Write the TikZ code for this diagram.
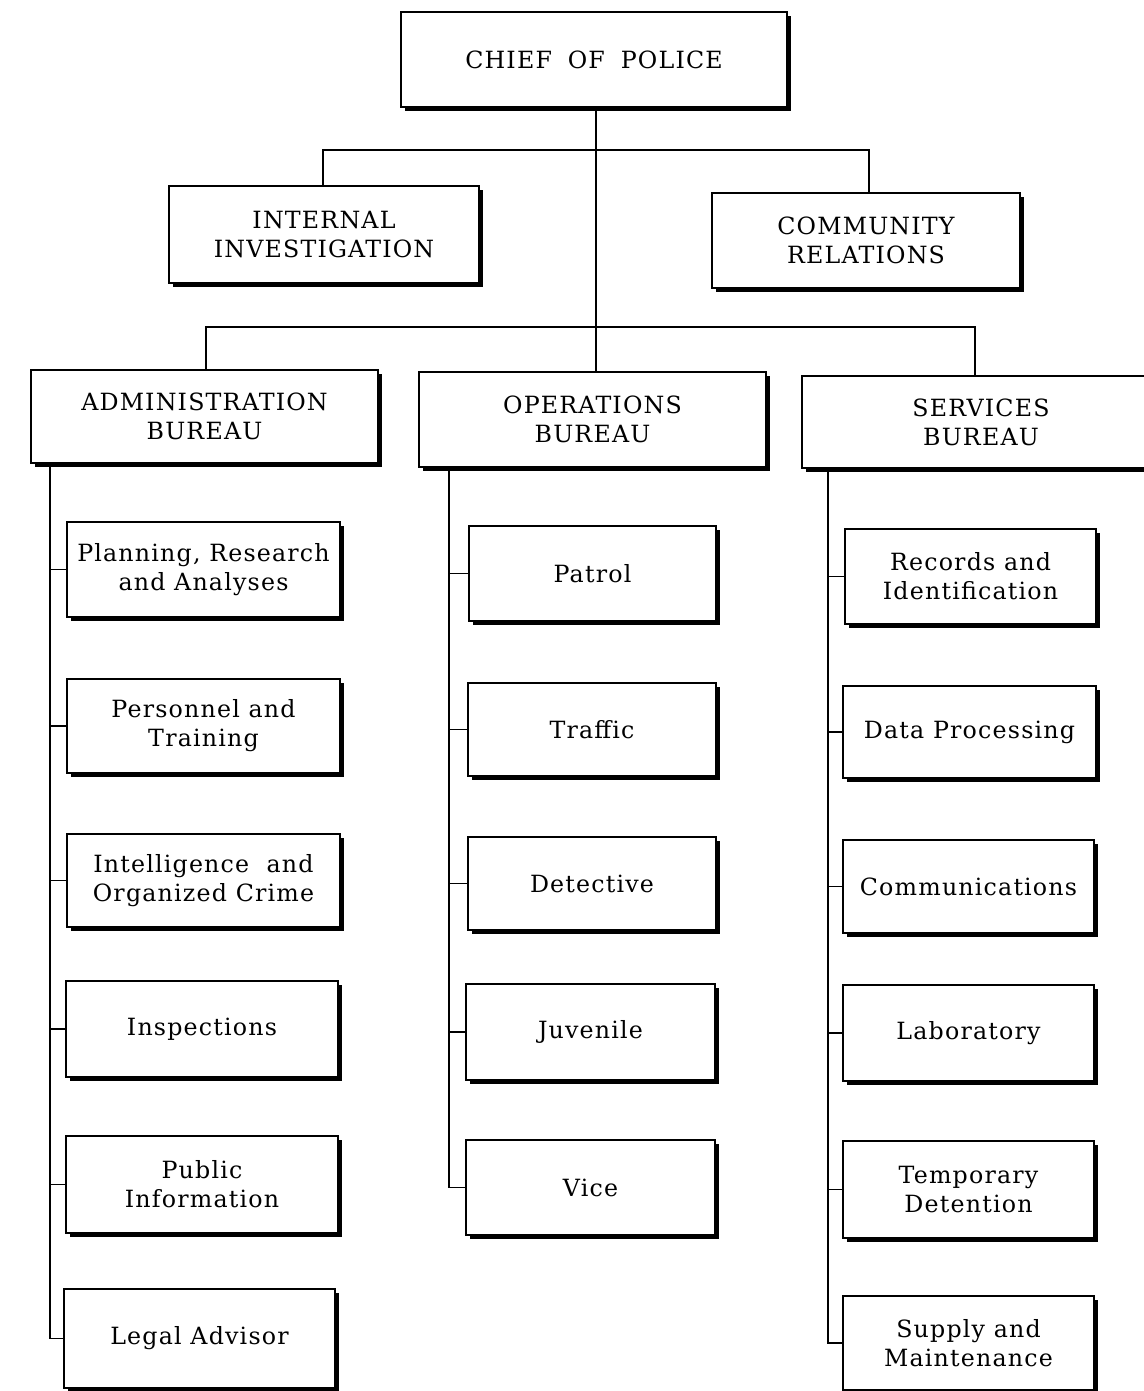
\documentclass[tikz,border=0pt]{standalone}
\usepackage{fontspec}
\newfontfamily\chartfont[LetterSpace=5]{DejaVu Serif}
\usetikzlibrary{shadows}
\tikzset{
  box/.style={draw=black, line width=1.5pt, fill=white, inner sep=0pt, align=center,
    font=\chartfont\fontsize{13.5}{16.5}\selectfont,
    drop shadow={shadow xshift=2pt, shadow yshift=-2.2pt, fill=black, opacity=1}},
  link/.style={draw=black, line width=1.1pt}
}
\newcommand\bx[6]{%
  \pgfmathsetmacro\bw{(#4-#2)*0.02}%
  \pgfmathsetmacro\bh{(#5-#3)*0.02}%
  \node[box, minimum width=\bw cm, minimum height=\bh cm] (#1) at ({(#2+#4)/2},{(#3+#5)/2}) {#6};}
\begin{document}
\begin{tikzpicture}[x=0.02cm,y=-0.02cm]
\useasboundingbox[fill=white] (0,0) rectangle (1143,1391);
% top level
\bx{chief}{401}{12}{787}{107}{CHIEF\hspace{0.3em} OF\hspace{0.3em} POLICE}
\bx{ii}{169}{186}{479}{283}{INTERNAL\\INVESTIGATION}
\bx{cr}{712}{193}{1020}{288}{COMMUNITY\\RELATIONS}
\bx{adm}{31}{370}{378}{463}{ADMINISTRATION\\BUREAU}
\bx{ops}{419}{372}{766}{467}{OPERATIONS\\BUREAU}
\bx{srv}{802}{376}{1160}{468}{SERVICES\\BUREAU}
% administration
\bx{a1}{67}{522}{340}{617}{Planning, Research\\and Analyses}
\bx{a2}{67}{679}{340}{773}{Personnel and\\Training}
\bx{a3}{67}{834}{340}{927}{Intelligence \ and\\Organized Crime}
\bx{a4}{66}{981}{338}{1077}{Inspections}
\bx{a5}{66}{1136}{338}{1233}{Public\\Information}
\bx{a6}{64}{1289}{335}{1388}{Legal Advisor}
% operations
\bx{o1}{469}{526}{716}{621}{Patrol}
\bx{o2}{468}{683}{716}{776}{Traffic}
\bx{o3}{468}{837}{716}{930}{Detective}
\bx{o4}{466}{984}{715}{1080}{Juvenile}
\bx{o5}{466}{1140}{715}{1235}{Vice}
% services
\bx{s1}{845}{529}{1096}{624}{Records and\\Identification}
\bx{s2}{843}{686}{1096}{778}{Data Processing}
\bx{s3}{843}{840}{1094}{933}{Communications}
\bx{s4}{843}{985}{1094}{1081}{Laboratory}
\bx{s5}{843}{1141}{1094}{1238}{Temporary\\Detention}
\bx{s6}{843}{1296}{1094}{1390}{Supply and\\Maintenance}
% junction coordinates
\coordinate (j1) at (596,150);
\coordinate (j2) at (596,327);
\coordinate (av) at (50,463);
\coordinate (ov) at (449,467);
\coordinate (sv) at (828,468);
% top connectors
\draw[link] (chief.south -| j1) -- (ops.north -| j1);
\draw[link] (ii.north -| 323,0) -- (j1 -| 323,0) -- (j1 -| 869,0) -- (cr.north -| 869,0);
\draw[link] (adm.north -| 206,0) -- (j2 -| 206,0) -- (j2 -| 975,0) -- (srv.north -| 975,0);
% bureau spines
\draw[link] (av) |- (a6.west);
\foreach \c in {a1,a2,a3,a4,a5} \draw[link] (\c.west) -- (\c.west -| av);
\draw[link] (ov) |- (o5.west);
\foreach \c in {o1,o2,o3,o4} \draw[link] (\c.west) -- (\c.west -| ov);
\draw[link] (sv) |- (s6.west);
\foreach \c in {s1,s2,s3,s4,s5} \draw[link] (\c.west) -- (\c.west -| sv);
\end{tikzpicture}
\end{document}
